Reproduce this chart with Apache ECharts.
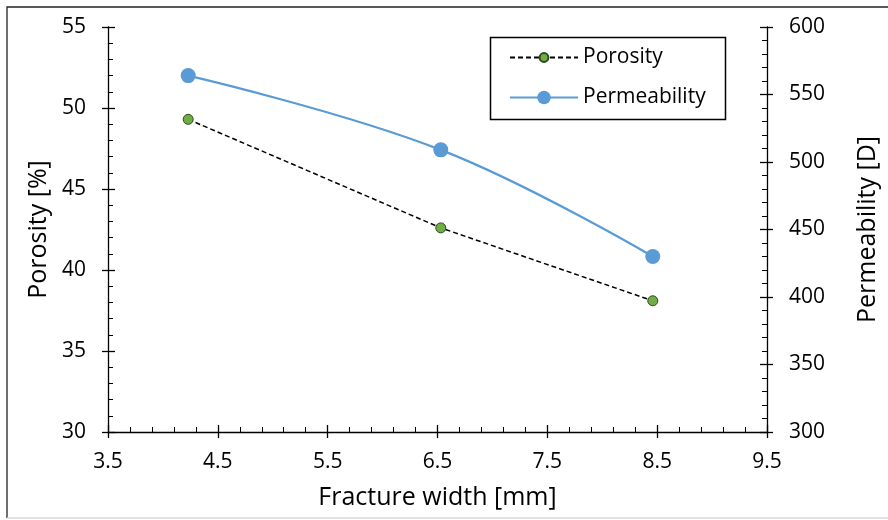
<!DOCTYPE html>
<html>
<head>
<meta charset="utf-8">
<script src="https://cdn.jsdelivr.net/npm/echarts@6/dist/echarts.min.js"></script>
<style>
  html, body { margin: 0; padding: 0; background: #fff; }
  #chart { width: 888px; height: 520px; }
</style>
</head>
<body>
<div id="chart"></div>
<script>
// Fracture width [mm] at each measurement
const fractureWidth = [4.23, 6.53, 8.46];
// Porosity [%]
const porosity = [49.3, 42.6, 38.1];
// Permeability [D]
const permeability = [564, 509, 430];

const xRange = { min: 3.5, max: 9.5, interval: 1 };
const leftRange = { min: 30, max: 55, interval: 5 };
const rightRange = { min: 300, max: 600, interval: 50 };

const FONT = '"Open Sans", sans-serif';
const INK = '#000';
const GREEN = '#70AD47';
const BLUE = '#5B9BD5';
const TICK_FONT = 21;
const TITLE_FONT = 25;

const chart = echarts.init(document.getElementById('chart'), null, { renderer: 'canvas' });

const pairs = (ys) => fractureWidth.map((x, i) => [x, ys[i]]);

// Major ticks crossing the axis line: inner part on the main axis, outer part on a twin axis
function twin(base) {
  return Object.assign({}, base, {
    name: '',
    axisLine: { show: false },
    axisLabel: { show: false },
    splitLine: { show: false },
    minorTick: { show: false },
    axisTick: { show: true, inside: false, length: 6, lineStyle: { color: INK, width: 1.3 } }
  });
}

const tickStyle = {
  axisLine: { show: true, lineStyle: { color: INK, width: 1.3 } },
  axisTick: { show: true, inside: true, length: 7, lineStyle: { color: INK, width: 1.3 } },
  minorTick: { show: true, splitNumber: 5, length: 5, lineStyle: { color: INK, width: 1 } },
  splitLine: { show: false }
};

const xMain = Object.assign({
  type: 'value', position: 'bottom',
  min: xRange.min, max: xRange.max, interval: xRange.interval,
  name: 'Fracture width [mm]', nameLocation: 'middle', nameGap: 53,
  nameTextStyle: { fontFamily: FONT, fontSize: TITLE_FONT, color: INK },
  axisLabel: { fontFamily: FONT, fontSize: TICK_FONT, color: INK, margin: 20, formatter: v => v.toFixed(1) }
}, tickStyle);

const yLeft = Object.assign({
  type: 'value', position: 'left',
  min: leftRange.min, max: leftRange.max, interval: leftRange.interval,
  name: 'Porosity [%]', nameLocation: 'middle', nameGap: 57,
  nameTextStyle: { fontFamily: FONT, fontSize: TITLE_FONT, color: INK },
  axisLabel: { fontFamily: FONT, fontSize: TICK_FONT, color: INK, margin: 22 }
}, tickStyle);

const yRight = Object.assign({
  type: 'value', position: 'right',
  min: rightRange.min, max: rightRange.max, interval: rightRange.interval,
  name: 'Permeability [D]', nameLocation: 'middle', nameGap: 88,
  nameTextStyle: { fontFamily: FONT, fontSize: TITLE_FONT, color: INK },
  axisLabel: { fontFamily: FONT, fontSize: TICK_FONT, color: INK, margin: 22 }
}, tickStyle);

const legendText = { fontFamily: FONT, fontSize: 21, color: INK };

const option = {
  backgroundColor: '#fff',
  animation: false,
  grid: { left: 108, right: 121, top: 27, bottom: 88, containLabel: false },
  xAxis: [xMain, twin(xMain)],
  yAxis: [yLeft, yRight, twin(yLeft), twin(yRight)],
  // one legend per entry so each keeps its own marker size
  legend: [
    {
      left: 509, top: 47, padding: 0,
      itemWidth: 68, itemHeight: 11,
      textStyle: legendText, data: ['Porosity']
    },
    {
      left: 509, top: 87, padding: 0,
      itemWidth: 68, itemHeight: 17,
      textStyle: legendText, data: ['Permeability']
    }
  ],
  graphic: [
    { type: 'rect', silent: true, z: 100,
      shape: { x: 490.5, y: 37.5, width: 235, height: 82 },
      style: { fill: null, stroke: INK, lineWidth: 1.5 } },
    { type: 'polyline', silent: true,
      shape: { points: [[7, 518], [7, 7], [888, 7]] },
      style: { fill: null, stroke: '#222', lineWidth: 1.3 } },
    { type: 'line', silent: true,
      shape: { x1: 7, y1: 518, x2: 888, y2: 518 },
      style: { stroke: '#d9d9d9', lineWidth: 1.5 } }
  ],
  series: [
    {
      name: 'Porosity', type: 'line',
      xAxisIndex: 0, yAxisIndex: 0,
      data: pairs(porosity),
      symbol: 'circle', symbolSize: 10,
      lineStyle: { color: INK, width: 1.5, type: [5, 3] },
      itemStyle: { color: GREEN, borderColor: '#2e4a1e', borderWidth: 1 },
      z: 3
    },
    {
      name: 'Permeability', type: 'line',
      xAxisIndex: 0, yAxisIndex: 1,
      data: pairs(permeability),
      smooth: 0.4,
      symbol: 'circle', symbolSize: 15,
      lineStyle: { color: BLUE, width: 2.2 },
      itemStyle: { color: BLUE, borderWidth: 0 },
      z: 4
    }
  ]
};

chart.setOption(option);
</script>
</body>
</html>
